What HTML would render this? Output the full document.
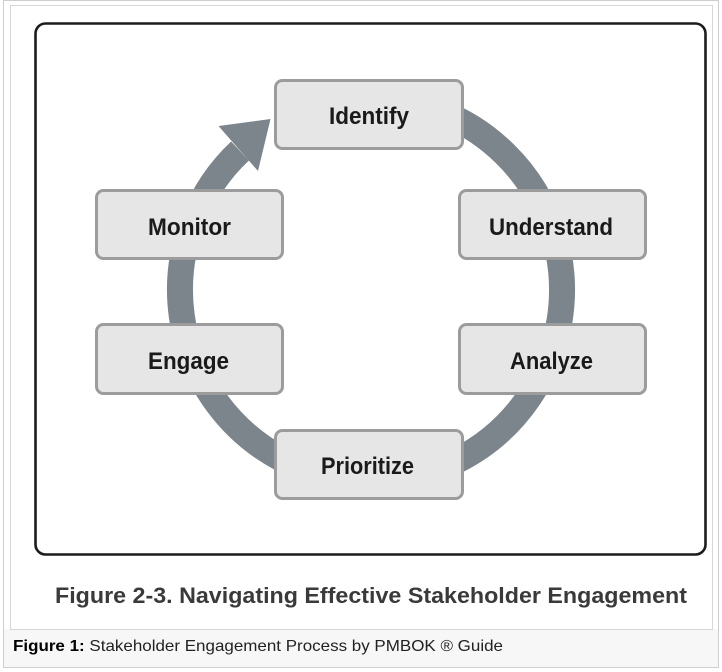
<!DOCTYPE html>
<html>
<head>
<meta charset="utf-8">
<style>
  html,body{margin:0;padding:0;background:#ffffff;}
  body{width:722px;height:672px;overflow:hidden;}
  svg{display:block;}
</style>
</head>
<body>
<svg width="722" height="672" viewBox="0 0 722 672" xmlns="http://www.w3.org/2000/svg">
  <!-- outer frame -->
  <rect x="3.5" y="0.5" width="715" height="667" fill="#ffffff" stroke="#cfcfcf" stroke-width="1"/>
  <!-- caption strip -->
  <rect x="4" y="629" width="714" height="38" fill="#f7f7f7"/>
  <!-- inner image border -->
  <rect x="10.5" y="5.5" width="702" height="624" fill="#ffffff" stroke="#d6d6d6" stroke-width="1"/>

  <!-- dark rounded frame -->
  <rect x="35.5" y="23.5" width="670" height="531" rx="10" ry="10" fill="#ffffff" stroke="#1c1c1c" stroke-width="2.6"/>

  <!-- ring -->
  <path d="M 337.8 101.9 A 191 191 0 1 1 240 151" fill="none" stroke="#7c858b" stroke-width="26" stroke-linecap="butt"/>
  <!-- arrowhead -->
  <polygon points="218.5,126 270.5,119 258,171" fill="#7c858b"/>

  <!-- boxes -->
  <g fill="#e6e6e6" stroke="#9c9c9c" stroke-width="3">
    <rect x="275.5" y="80.5" width="187" height="68" rx="7"/>
    <rect x="96.5" y="190.5" width="186" height="68" rx="7"/>
    <rect x="459.5" y="190.5" width="186" height="68" rx="7"/>
    <rect x="96.5" y="324.5" width="186" height="69" rx="7"/>
    <rect x="459.5" y="324.5" width="186" height="69" rx="7"/>
    <rect x="275.5" y="430.5" width="187" height="68" rx="7"/>
  </g>

  <g font-family="'Liberation Sans', Arial, sans-serif" font-weight="bold" font-size="24" fill="#1a1a1a" text-anchor="middle">
    <text x="369" y="124" textLength="80" lengthAdjust="spacingAndGlyphs">Identify</text>
    <text x="189.5" y="235" textLength="83" lengthAdjust="spacingAndGlyphs">Monitor</text>
    <text x="551" y="235" textLength="124" lengthAdjust="spacingAndGlyphs">Understand</text>
    <text x="188.5" y="369" textLength="81" lengthAdjust="spacingAndGlyphs">Engage</text>
    <text x="551.5" y="369" textLength="83" lengthAdjust="spacingAndGlyphs">Analyze</text>
    <text x="367.5" y="474" textLength="93" lengthAdjust="spacingAndGlyphs">Prioritize</text>
  </g>

  <!-- figure caption inside image -->
  <text x="55" y="603" font-family="'Liberation Sans', Arial, sans-serif" font-weight="bold" font-size="22" fill="#3a3a3a" textLength="632" lengthAdjust="spacingAndGlyphs">Figure 2-3. Navigating Effective Stakeholder Engagement</text>

  <!-- page caption -->
  <text x="13" y="651" font-family="'Liberation Sans', Arial, sans-serif" font-size="16" fill="#222222" textLength="490" lengthAdjust="spacingAndGlyphs"><tspan font-weight="bold" fill="#000000">Figure 1:</tspan> Stakeholder Engagement Process by PMBOK ® Guide</text>
</svg>
</body>
</html>
